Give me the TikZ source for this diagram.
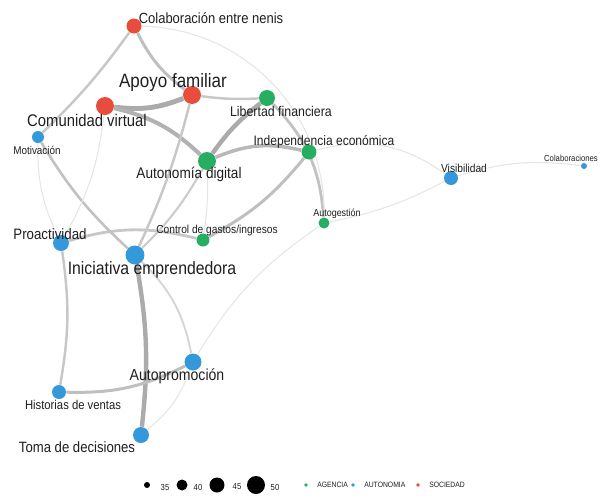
\documentclass[tikz,border=0pt]{standalone}
\usepackage{fontspec}
\setmainfont{Liberation Sans}
\newfontfamily\lblfont{Liberation Sans}[FakeStretch=0.88]
\usetikzlibrary{positioning}
\pgfdeclarelayer{background}
\pgfsetlayers{background,main}
\definecolor{rojo}{HTML}{E74C3C}
\definecolor{verde}{HTML}{27AE60}
\definecolor{azul}{HTML}{3498DB}
\tikzset{
  punto/.style={circle, inner sep=0pt, minimum size=#1*0.04cm},
  etiq/.style={font=\lblfont\fontsize{#1}{#1}\selectfont, inner sep=0pt, text=black!88},
  arista/.style 2 args={line width=#1pt, draw=black!#2},
  tenue/.style={line width=0.6pt, draw=black!10},
}

\begin{document}
\begin{tikzpicture}[x=0.02cm, y=-0.02cm]
  \useasboundingbox (0,0) rectangle (602,498);

  % nodos
  \node[punto=7.5, fill=rojo] (cen) at (134,26) {};
  \node[punto=9, fill=rojo] (af) at (192,95) {};
  \node[punto=9, fill=rojo] (cv) at (105,106) {};
  \node[punto=6, fill=azul] (mot) at (38,137) {};
  \node[punto=8, fill=verde] (lf) at (267,98) {};
  \node[punto=7.5, fill=verde] (ie) at (309,152) {};
  \node[punto=9, fill=verde] (ad) at (207,161) {};
  \node[punto=7, fill=azul] (vis) at (451,178) {};
  \node[punto=3, fill=azul] (col) at (584,166) {};
  \node[punto=5.5, fill=verde] (ag) at (324,223) {};
  \node[punto=6.5, fill=verde] (cg) at (203,240) {};
  \node[punto=8, fill=azul] (pro) at (61,243) {};
  \node[punto=9.5, fill=azul] (iem) at (135,255) {};
  \node[punto=8.5, fill=azul] (ap) at (193,362) {};
  \node[punto=7, fill=azul] (hv) at (59,392) {};
  \node[punto=8, fill=azul] (td) at (141,435) {};

  % aristas
  \begin{pgfonlayer}{background}
    \draw[arista={2.8}{33}] (cv) to[bend right=14] (af);
    \draw[arista={2.3}{30}] (cv) to[bend left=15] (ad);
    \draw[arista={2.5}{33}] (ad) to[bend left=8] (lf);
    \draw[arista={2.5}{33}] (iem) to[bend left=8] (td);
    \draw[arista={2.0}{28}] (ad) to[bend left=18] (ie);
    \draw[arista={1.7}{25}] (cen) to[bend right=13] (af);
    \draw[arista={1.4}{22}] (cen) to[bend left=5] (mot);
    \draw[arista={1.4}{22}] (af) to[bend right=5] (lf);
    \draw[arista={1.4}{22}] (af) to[bend left=5] (iem);
    \draw[arista={1.2}{20}] (ad) to[bend left=8] (iem);
    \draw[arista={1.7}{25}] (ie) to[bend left=11] (cg);
    \draw[arista={1.6}{22}] (pro) to[bend left=15] (cg);
    \draw[arista={1.4}{22}] (pro) to[bend left=9] (hv);
    \draw[arista={1.7}{25}] (hv) to[bend right=14] (ap);
    \draw[arista={1.5}{24}] (mot) to[bend right=8] (iem);
    \draw[arista={1.6}{24}] (lf) to[bend left=20] (ag);
    \draw[arista={1.1}{16}] (iem) to[bend left=17] (ap);
    \draw[tenue] (cen) to[bend left=45] (ag);
    \draw[tenue] (mot) to[bend right=13] (pro);
    \draw[tenue] (cv) to[bend left=11] (pro);
    \draw[tenue] (ad) to[bend left=5] (cg);
    \draw[tenue] (ie) to[bend left=25] (vis);
    \draw[tenue] (vis) to[bend left=12] (col);
    \draw[tenue] (vis) to[bend left=8] (ag);
    \draw[tenue] (ag) to[bend right=12] (ap);
    \draw[tenue] (ap) to[bend left=15] (td);
  \end{pgfonlayer}

  % etiquetas
  \node[etiq=8.4] (cen-t) at (211,18) {Colaboración entre nenis};
  \node[etiq=11] (af-t) at (173,82) {Apoyo familiar};
  \node[etiq=9.6] (cv-t) at (87,120) {Comunidad virtual};
  \node[etiq=6.4] (mot-t) at (37,150) {Motivación};
  \node[etiq=8] (lf-t) at (281,111) {Libertad financiera};
  \node[etiq=7.8] (ie-t) at (324,142) {Independencia económica};
  \node[etiq=8.8] (ad-t) at (189,174) {Autonomía digital};
  \node[etiq=6.6] (vis-t) at (464,168) {Visibilidad};
  \node[etiq=5] (col-t) at (571,158) {Colaboraciones};
  \node[etiq=5.8] (ag-t) at (337,214) {Autogestión};
  \node[etiq=6.6] (cg-t) at (217,230) {Control de gastos/ingresos};
  \node[etiq=8.6] (pro-t) at (50,234) {Proactividad};
  \node[etiq=10.2] (iem-t) at (152,270) {Iniciativa emprendedora};
  \node[etiq=9.1] (ap-t) at (177,376) {Autopromoción};
  \node[etiq=7.3] (hv-t) at (73,405) {Historias de ventas};
  \node[etiq=8.5] (td-t) at (77,447) {Toma de decisiones};

  % leyenda
  \node[punto=3, fill=black] (l35) at (147,485) {};
  \node[punto=5.5, fill=black] (l40) at (182,485) {};
  \node[punto=7.5, fill=black] (l45) at (217,485) {};
  \node[punto=9, fill=black] (l50) at (256,485) {};
  \node[etiq=5] (l35-t) at (165,487) {35};
  \node[etiq=5] (l40-t) at (198,487) {40};
  \node[etiq=5] (l45-t) at (237,487) {45};
  \node[etiq=5] (l50-t) at (275,487) {50};
  \node[punto=1.8, fill=verde] (lag) at (306,485) {};
  \node[punto=1.8, fill=azul] (lau) at (353,485) {};
  \node[punto=1.8, fill=rojo] (lso) at (418,485) {};
  \node[etiq=4.4, right=5pt of lag] (lag-t) {AGENCIA};
  \node[etiq=4.4, right=5pt of lau] (lau-t) {AUTONOMIA};
  \node[etiq=4.4, right=5pt of lso] (lso-t) {SOCIEDAD};
\end{tikzpicture}
\end{document}
